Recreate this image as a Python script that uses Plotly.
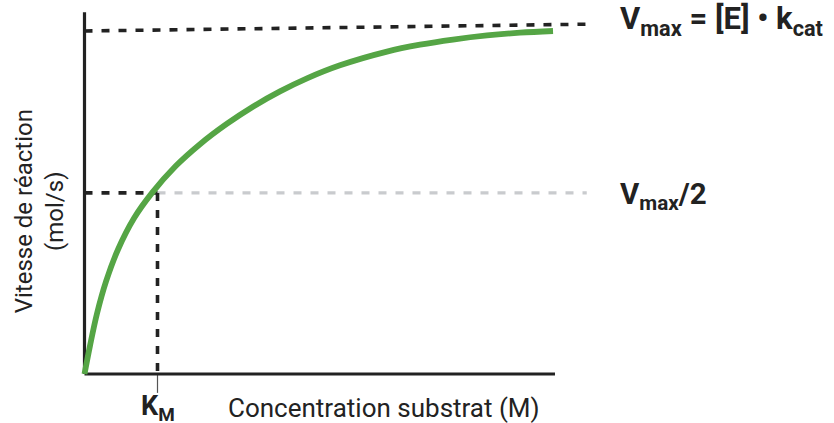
import plotly.graph_objects as go

# Michaelis-Menten saturation curve (substrate concentration in units of K_M,
# rate in units of V_max)
substrate = [0.0, 0.075, 0.171, 0.295, 0.459, 0.678, 0.925, 1.253, 1.582, 1.948,
             2.312, 2.678, 3.048, 3.500, 4.144, 4.596, 5.048, 5.514, 5.966, 6.418]
rate = [0.0, 0.082, 0.176, 0.270, 0.363, 0.454, 0.528, 0.607, 0.670, 0.729,
        0.780, 0.824, 0.862, 0.900, 0.940, 0.960, 0.975, 0.987, 0.995, 1.000]

KM = 1.0
VMAX_LINE_X = [0.0, 6.92]
VMAX_LINE_Y = [1.0, 1.02]
HALF_LEVEL = 0.528
HALF_END_X = 6.88
X_AXIS_END = 6.445
Y_AXIS_TOP = 1.055
KM_TICK_BOTTOM = -0.055

INK = "#222222"
GREEN = "#55a545"
GREY = "#c9cbce"

fig = go.Figure()

def seg(x, y, color, width, dash="solid"):
    fig.add_trace(go.Scatter(x=x, y=y, mode="lines", hoverinfo="skip",
                             line=dict(color=color, width=width, dash=dash)))

dash_pat = "8px,9px"

# Vmax level
seg(VMAX_LINE_X, VMAX_LINE_Y, INK, 3.6, dash_pat)
# Vmax/2 level: black up to K_M, grey beyond
seg([KM, HALF_END_X], [HALF_LEVEL, HALF_LEVEL], GREY, 3.2, dash_pat)
seg([0.0, KM], [HALF_LEVEL, HALF_LEVEL], INK, 3.6, dash_pat)
# K_M drop line and tick
seg([KM, KM], [HALF_LEVEL, 0.0], INK, 3.6, dash_pat)
seg([KM, KM], [0.0, KM_TICK_BOTTOM], "#555555", 1.2)

# axes
seg([0.0, 0.0], [0.0, Y_AXIS_TOP], INK, 3.2)
seg([0.0, X_AXIS_END], [0.0, 0.0], INK, 3.2)

# saturation curve
fig.add_trace(go.Scatter(x=substrate, y=rate, mode="lines", hoverinfo="skip",
                         line=dict(color=GREEN, width=5.8, shape="spline", smoothing=1.0)))

font_bold = "Roboto"
fig.add_annotation(x=7.31, y=1.03, xref="x", yref="y", xanchor="left", yanchor="middle",
                   text="<b>V<sub>max</sub> = [E] • k<sub>cat</sub></b>", showarrow=False,
                   font=dict(family=font_bold, size=31, color=INK))
fig.add_annotation(x=7.31, y=HALF_LEVEL - 0.01, xref="x", yref="y", xanchor="left", yanchor="middle",
                   text="<b>V<sub>max</sub>/2</b>", showarrow=False,
                   font=dict(family=font_bold, size=29.5, color=INK))
fig.add_annotation(x=KM, y=-0.1, xref="x", yref="y", xanchor="center", yanchor="middle",
                   text="<b>K<sub>M</sub></b>", showarrow=False,
                   font=dict(family=font_bold, size=27, color=INK))
fig.add_annotation(x=4.1, y=-0.1, xref="x", yref="y", xanchor="center", yanchor="middle",
                   text="Concentration substrat (M)", showarrow=False,
                   font=dict(family="Roboto", size=26, color=INK))
fig.add_annotation(x=-0.62, y=0.475, xref="x", yref="y", xanchor="center", yanchor="middle",
                   text="Vitesse de réaction<br>(mol/s)", showarrow=False, textangle=-90,
                   font=dict(family="Roboto", size=24, color=INK))

fig.update_layout(
    width=834, height=423,
    margin=dict(l=0, r=0, t=0, b=0),
    paper_bgcolor="white", plot_bgcolor="white",
    showlegend=False,
    xaxis=dict(visible=False, range=[-84.5 / 73, (834 - 84.5) / 73], fixedrange=True),
    yaxis=dict(visible=False, range=[(374 - 423) / 343, 374 / 343], fixedrange=True),
)

fig.write_html("out.html")
